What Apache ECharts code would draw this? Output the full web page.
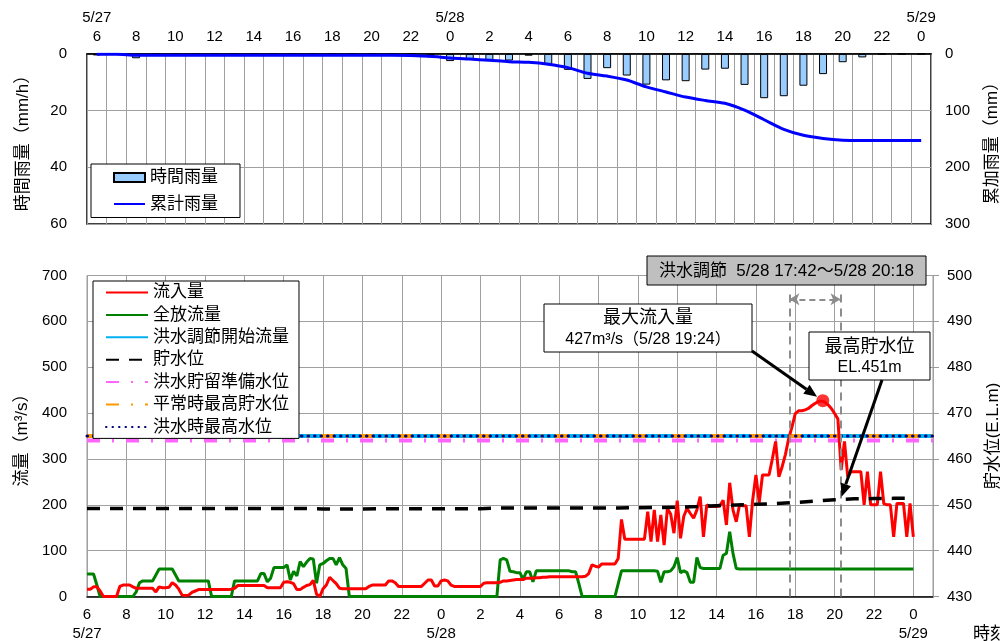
<!DOCTYPE html>
<html>
<head>
<meta charset="utf-8">
<script src="https://cdn.jsdelivr.net/npm/echarts@6/dist/echarts.min.js"></script>
<style>
  html, body { margin: 0; padding: 0; background: #fff; overflow: hidden; }
  #chart { width: 1000px; height: 641px; }
</style>
</head>
<body>
<div id="chart"></div>
<script>
// ---------- hourly rainfall (5/27 6:00 .. 5/29 0:00) ----------
const hourLabels = ['6','7','8','9','10','11','12','13','14','15','16','17','18','19','20','21','22','23',
  '0','1','2','3','4','5','6','7','8','9','10','11','12','13','14','15','16','17','18','19','20','21','22','23','0'];
const topDayMarks = { 0: '5/27', 18: '5/28', 42: '5/29' };

// 時間雨量 (mm/h)
const hourlyRain = [0.5, 0, 1.5, 0, 0, 0, 0, 0, 0, 0, 0, 0, 0, 0, 0, 0, 0, 1.2,
  2.5, 1.8, 2.1, 2.3, 0.6, 3.5, 5.6, 8.8, 5.0, 7.6, 10.8, 9.3, 9.6, 5.5, 5.2, 10.9,
  15.6, 14.9, 11.2, 7.1, 2.9, 1.2, 0, 0, 0];
// 累計雨量 (mm)
const cumulativeRain = [0.5, 0.5, 2, 2, 2, 2, 2, 2, 2, 2, 2, 2, 2, 2, 2, 2, 2.5, 4,
  7, 9, 11, 13.5, 14.7, 18, 24, 34, 39, 46, 58, 67, 76, 82, 87, 99,
  116, 133, 143.5, 149, 152, 152.5, 152.5, 152.5, 152.5];

// ---------- 10-minute records, hours counted from 5/27 0:00 ----------
const recordStartHour = 6;
const recordsPerHour = 6;
const dayMarks = { 6: '5/27', 24: '5/28', 48: '5/29' };

// 流入量 (m3/s)
const inflow = [
  16,16,21,21,12,0,        // 6
  0,0,0,0,22,25,           // 7
  25,25,21,18,18,18,       // 8
  18,18,18,10,21,19,       // 9
  19,20,30,25,16,3,        // 10
  2,3,9,12,15,15,          // 11
  15,15,15,15,15,15,       // 12
  15,15,16,18,24,24,       // 13
  24,24,24,24,24,24,       // 14
  24,19,19,19,19,19,       // 15
  31,32,31,28,15,15,       // 16
  20,24,26,35,5,0,         // 17
  17,25,42,35,28,18,       // 18
  17,17,17,17,17,17,       // 19
  17,17,22,25,25,25,       // 20
  25,25,34,34,30,22,       // 21
  22,22,22,22,22,22,       // 22
  22,29,36,36,23,23,       // 23
  34,36,34,25,22,22,       // 0 (5/28)
  22,22,22,22,22,22,       // 1
  22,29,30,30,30,30,       // 2
  31,34,34,35,36,37,       // 3
  37,37,40,40,40,41,       // 4
  41,42,42,43,43,43,       // 5
  43,43,43,43,43,43,       // 6
  43,43,44,50,69,66,       // 7
  64,71,71,71,71,71,       // 8
  83,168,125,125,125,125,  // 9
  125,125,125,185,120,189, // 10
  120,178,112,192,180,138, // 11
  209,127,175,192,181,171, // 12
  189,218,130,200,196,196, // 13
  196,198,210,156,248,189, // 14
  163,200,198,198,130,210, // 15
  265,205,265,265,265,300, // 16
  338,261,283,310,345,370, // 17
  399,405,405,407,410,416, // 18
  421,425,426,424,418,410, // 19
  399,387,276,338,261,272, // 20
  272,272,272,200,272,200, // 21
  200,200,272,202,200,200, // 22
  130,203,203,203,130,203, // 23
  130                      // 0 (5/29)
];

// 全放流量 (m3/s)
const outflow = [
  49,49,49,25,0,0,         // 6
  0,0,0,0,0,0,             // 7
  0,0,0,10,30,34,          // 8
  34,34,34,47,60,60,       // 9
  60,60,60,47,34,34,       // 10
  34,34,34,34,34,34,       // 11
  34,34,0,0,0,0,           // 12
  0,0,0,34,34,34,          // 13
  34,34,34,34,34,50,       // 14
  50,32,40,63,63,63,       // 15
  63,69,36,55,45,76,       // 16
  65,75,83,82,29,69,       // 17
  72,78,83,83,69,85,       // 18
  69,61,0,0,0,0,           // 19
  0,0,0,0,0,0,             // 20
  0,0,0,0,0,0,             // 21
  0,0,0,0,0,0,             // 22
  0,0,0,0,0,0,             // 23
  0,0,0,0,0,0,             // 0 (5/28)
  0,0,0,0,0,0,             // 1
  0,0,0,0,0,0,             // 2
  80,83,80,55,54,52,       // 3
  52,38,54,54,32,56,       // 4
  56,56,56,56,56,56,       // 5
  56,56,56,56,54,54,       // 6
  28,0,0,0,0,0,            // 7
  0,0,0,0,0,0,             // 8
  28,56,56,56,56,56,       // 9
  56,56,56,56,56,56,       // 10
  55,31,54,54,56,65,       // 11
  85,52,56,52,31,31,       // 12
  85,63,61,61,61,61,       // 13
  61,61,90,94,141,94,      // 14
  61,60,60,60,60,60,       // 15
  60,60,60,60,60,60,       // 16
  60,60,60,60,60,60,       // 17
  60,60,60,60,60,60,       // 18
  60,60,60,60,60,60,       // 19
  60,60,60,60,60,60,       // 20
  60,60,60,60,60,60,       // 21
  60,60,60,60,60,60,       // 22
  60,60,60,60,60,60,       // 23
  60                       // 0 (5/29)
];

// 貯水位 (EL.m), hourly 6:00 5/27 .. 0:00 5/29
const storageLevel = [449.2, 449.2, 449.2, 449.2, 449.2, 449.2, 449.2, 449.2, 449.2, 449.2, 449.2, 449.2,
  449.1, 449.1, 449.1, 449.15, 449.15, 449.15, 449.15, 449.15, 449.15,
  449.3, 449.3, 449.3, 449.3, 449.3, 449.3, 449.3,
  449.35, 449.4, 449.45, 449.6, 449.8, 449.95, 450.1, 450.25, 450.5, 450.8, 451.1, 451.3, 451.35, 451.4, 451.4];

// reference levels
const floodControlFlow = 350;     // 洪水調節開始流量
const floodStandbyLevel = 464;    // 洪水貯留準備水位
const normalMaxLevel = 465;       // 平常時最高貯水位
const floodMaxLevel = 465;        // 洪水時最高水位

// flood control period and peak inflow
const floodStart = 41.7;          // 5/28 17:42
const floodEnd = 44.3;            // 5/28 20:18
const peakTime = 43.4;            // 5/28 19:24
const peakFlow = 427;

// ---------- build series data ----------
const timeOf = i => recordStartHour + i / recordsPerHour;
const inflowData = inflow.map((v, i) => [timeOf(i), v]);
const outflowData = outflow.map((v, i) => [timeOf(i), v]);
const storageData = storageLevel.map((v, i) => [recordStartHour + i, v]);
const axisStart = 6, axisEnd = 49;
const flatLine = v => [[axisStart, v], [axisEnd, v]];

const FONT = '"Liberation Sans","Noto Sans CJK JP",sans-serif';
const GRID_COLOR = '#a0a0a0';
const lineOnly = name => ({ name: name, itemStyle: { opacity: 0 } });

const chart = echarts.init(document.getElementById('chart'));

const option = {
  animation: false,
  textStyle: { fontFamily: FONT, color: '#000' },
  grid: [
    { left: 87, top: 54, width: 844, height: 170, outerBoundsMode: 'none', containLabel: false,
      show: true, borderColor: '#000', borderWidth: 1.5, backgroundColor: '#fff' },
    { left: 87, top: 275.5, width: 846, height: 321, outerBoundsMode: 'none', containLabel: false,
      show: true, borderColor: '#999', borderWidth: 1, backgroundColor: '#fff' }
  ],
  legend: [
    {
      data: [{ name: '時間雨量', icon: 'rect' }, lineOnly('累計雨量')],
      orient: 'vertical', left: 91, top: 164,
      itemWidth: 31, itemHeight: 9, itemGap: 9.5,
      padding: [5, 22, 5, 22],
      backgroundColor: '#fff', borderColor: '#000', borderWidth: 1,
      selectedMode: false,
      textStyle: { fontFamily: FONT, fontSize: 17, color: '#000' }
    },
    {
      data: ['流入量', '全放流量', '洪水調節開始流量', '貯水位', '洪水貯留準備水位', '平常時最高貯水位', '洪水時最高水位'].map(lineOnly),
      orient: 'vertical', left: 93, top: 281,
      itemWidth: 42, itemHeight: 14, itemGap: 5.4,
      padding: [3, 10, 3, 12],
      backgroundColor: '#fff', borderColor: '#000', borderWidth: 1,
      selectedMode: false,
      textStyle: { fontFamily: FONT, fontSize: 17, color: '#000' }
    }
  ],
  xAxis: [
    {
      type: 'category', gridIndex: 0, position: 'top', data: hourLabels, boundaryGap: true,
      axisLine: { show: true, lineStyle: { color: '#000', width: 1.5 } },
      axisTick: { show: false },
      axisLabel: {
        interval: 1, margin: 8, fontSize: 15, lineHeight: 19, color: '#000',
        formatter: (v, i) => topDayMarks[i] ? topDayMarks[i] + '\n' + v : v
      },
      splitLine: { show: true, interval: 0, lineStyle: { color: GRID_COLOR, width: 1 } }
    },
    {
      type: 'value', gridIndex: 1, min: axisStart, max: axisEnd, interval: 2,
      axisLine: { show: true, onZero: false, lineStyle: { color: '#000', width: 1.5 } },
      axisTick: { show: false },
      axisLabel: {
        margin: 9, fontSize: 15, lineHeight: 19, color: '#000', showMaxLabel: false,
        formatter: v => {
          if (v > 48 || v % 2) return '';
          const d = dayMarks[v];
          return (v % 24) + (d ? '\n' + d : '');
        }
      },
      splitLine: { show: true, lineStyle: { color: GRID_COLOR, width: 1 } }
    }
  ],
  yAxis: [
    {
      type: 'value', gridIndex: 0, min: 0, max: 60, interval: 20, inverse: true,
      name: '時間雨量（mm/h）', nameLocation: 'middle', nameGap: 55,
      nameTextStyle: { fontFamily: FONT, fontSize: 17, color: '#000' },
      axisLine: { show: false }, axisTick: { show: false },
      axisLabel: { margin: 20, fontSize: 15, color: '#000' },
      splitLine: { show: true, lineStyle: { color: GRID_COLOR, width: 1 } }
    },
    {
      type: 'value', gridIndex: 0, position: 'right', min: 0, max: 300, interval: 100, inverse: true,
      name: '累加雨量（mm）', nameLocation: 'middle', nameGap: 53, nameRotate: 90,
      nameTextStyle: { fontFamily: FONT, fontSize: 17, color: '#000' },
      axisLine: { show: false }, axisTick: { show: false },
      axisLabel: { margin: 14, fontSize: 15, color: '#000' },
      splitLine: { show: false }
    },
    {
      type: 'value', gridIndex: 1, min: 0, max: 700, interval: 100,
      name: '流量（m³/s）', nameLocation: 'middle', nameGap: 55,
      nameTextStyle: { fontFamily: FONT, fontSize: 17, color: '#000' },
      axisLine: { show: false }, axisTick: { show: false },
      axisLabel: { margin: 20, fontSize: 15, color: '#000' },
      splitLine: { show: true, lineStyle: { color: GRID_COLOR, width: 1 } }
    },
    {
      type: 'value', gridIndex: 1, position: 'right', min: 430, max: 500, interval: 10,
      name: '貯水位(E.L.m)', nameLocation: 'middle', nameGap: 52, nameRotate: 90,
      nameTextStyle: { fontFamily: FONT, fontSize: 17, color: '#000' },
      axisLine: { show: false },
      axisTick: { show: true, length: 6, lineStyle: { color: '#999' } },
      axisLabel: { margin: 14, fontSize: 15, color: '#000' },
      splitLine: { show: false }
    }
  ],
  series: [
    {
      name: '時間雨量', type: 'bar', xAxisIndex: 0, yAxisIndex: 0, data: hourlyRain,
      barWidth: 8, itemStyle: { color: '#99ccff', borderColor: '#000', borderWidth: 1 }
    },
    {
      name: '累計雨量', type: 'line', xAxisIndex: 0, yAxisIndex: 1, data: cumulativeRain,
      symbol: 'none', smooth: 0.3, lineStyle: { color: '#0000ff', width: 3 }, itemStyle: { color: '#0000ff' }, z: 3
    },
    {
      name: '流入量', type: 'line', xAxisIndex: 1, yAxisIndex: 2, data: inflowData,
      symbol: 'none', lineStyle: { color: '#ff0000', width: 3 }, itemStyle: { color: '#ff0000' }, z: 4
    },
    {
      name: '全放流量', type: 'line', xAxisIndex: 1, yAxisIndex: 2, data: outflowData,
      symbol: 'none', lineStyle: { color: '#008000', width: 3 }, itemStyle: { color: '#008000' }, z: 3,
      markLine: {
        silent: true, symbol: ['arrow', 'arrow'], symbolSize: [9, 10], label: { show: false },
        lineStyle: { color: '#8c8c8c', type: [6, 4], width: 2 },
        data: [[{ coord: [floodStart, 648] }, { coord: [floodEnd, 648] }]]
      }
    },
    {
      name: '洪水調節開始流量', type: 'line', xAxisIndex: 1, yAxisIndex: 2, data: flatLine(floodControlFlow),
      symbol: 'none', lineStyle: { color: '#00b0f0', width: 4 }, itemStyle: { color: '#00b0f0' }, z: 2
    },
    {
      name: '貯水位', type: 'line', xAxisIndex: 1, yAxisIndex: 3, data: storageData,
      symbol: 'none', lineStyle: { color: '#000', width: 3.5, type: [13, 10] }, itemStyle: { color: '#000' }, z: 5
    },
    {
      name: '洪水貯留準備水位', type: 'line', xAxisIndex: 1, yAxisIndex: 3, data: flatLine(floodStandbyLevel),
      symbol: 'none', lineStyle: { color: '#ff66ff', width: 4, type: [13, 12, 2, 12] }, itemStyle: { color: '#ff66ff' }, z: 2
    },
    {
      name: '平常時最高貯水位', type: 'line', xAxisIndex: 1, yAxisIndex: 3, data: flatLine(normalMaxLevel),
      symbol: 'none', lineStyle: { color: '#ff9900', width: 4, type: [13, 12, 2, 12] }, itemStyle: { color: '#ff9900' }, z: 2
    },
    {
      name: '洪水時最高水位', type: 'line', xAxisIndex: 1, yAxisIndex: 3, data: flatLine(floodMaxLevel),
      symbol: 'none', lineStyle: { color: '#000080', width: 3, type: [0.5, 6], cap: 'round' }, itemStyle: { color: '#000080' }, z: 2
    },
    {
      name: '最大流入量', type: 'scatter', xAxisIndex: 1, yAxisIndex: 2, data: [[peakTime, peakFlow]],
      symbol: 'circle', symbolSize: 13, itemStyle: { color: '#ff0000' }, z: 6,
      markLine: {
        silent: true, symbol: ['none', 'none'], label: { show: false },
        lineStyle: { color: '#8c8c8c', type: [8, 6], width: 2 },
        data: [
          [{ coord: [floodStart, 0] }, { coord: [floodStart, 662] }],
          [{ coord: [floodEnd, 0] }, { coord: [floodEnd, 662] }]
        ]
      }
    }
  ]
};

chart.setOption(option);

// ---------- annotations ----------
function arrow(from, to, back) {
  const dx = to[0] - from[0], dy = to[1] - from[1];
  const len = Math.hypot(dx, dy);
  const ux = dx / len, uy = dy / len;
  const tip = [to[0] - ux * back, to[1] - uy * back];
  const headL = 13, headW = 11;
  const base = [tip[0] - ux * headL, tip[1] - uy * headL];
  const nx = -uy, ny = ux;
  return [
    { type: 'line', shape: { x1: from[0], y1: from[1], x2: base[0], y2: base[1] },
      style: { stroke: '#000', lineWidth: 3 }, z: 100 },
    { type: 'polygon', shape: { points: [tip,
        [base[0] + nx * headW / 2, base[1] + ny * headW / 2],
        [base[0] - nx * headW / 2, base[1] - ny * headW / 2]] },
      style: { fill: '#000' }, z: 100 }
  ];
}

function levelAt(t) {
  const i = Math.floor(t - recordStartHour);
  const f = (t - recordStartHour) - i;
  return storageLevel[i] + (storageLevel[i + 1] - storageLevel[i]) * f;
}

const peakPx = chart.convertToPixel({ seriesIndex: 9 }, [peakTime, peakFlow]);
const levelPx = chart.convertToPixel({ seriesIndex: 5 }, [floodEnd, levelAt(floodEnd)]);

const boxText = { fontFamily: FONT, fill: '#000', align: 'center', verticalAlign: 'middle' };

chart.setOption({
  graphic: [
    // flood control period
    { type: 'rect', shape: { x: 647, y: 256, width: 279, height: 29 },
      style: { fill: '#bfbfbf', stroke: '#000', lineWidth: 1 }, z: 100 },
    { type: 'text', x: 786.5, y: 271, z: 101,
      style: Object.assign({ text: '洪水調節  5/28 17:42～5/28 20:18', fontSize: 17 }, boxText) },
    // peak inflow
    { type: 'rect', shape: { x: 544, y: 304, width: 208, height: 48 },
      style: { fill: '#fff', stroke: '#000', lineWidth: 1 }, z: 100 },
    { type: 'text', x: 648, y: 318, z: 101,
      style: Object.assign({ text: '最大流入量', fontSize: 18 }, boxText) },
    { type: 'text', x: 648, y: 340, z: 101,
      style: Object.assign({ text: '427m³/s（5/28 19:24）', fontSize: 16 }, boxText) },
    // max storage level
    { type: 'rect', shape: { x: 809, y: 332, width: 121, height: 48 },
      style: { fill: '#fff', stroke: '#000', lineWidth: 1 }, z: 100 },
    { type: 'text', x: 869.5, y: 347, z: 101,
      style: Object.assign({ text: '最高貯水位', fontSize: 18 }, boxText) },
    { type: 'text', x: 869.5, y: 368, z: 101,
      style: Object.assign({ text: 'EL.451m', fontSize: 16 }, boxText) },
    ...arrow([752, 351], peakPx, 7),
    ...arrow([882, 380], levelPx, 3),
    // time axis title
    { type: 'text', x: 973, y: 626, z: 101,
      style: { text: '時刻', fontFamily: FONT, fontSize: 17, fill: '#000', align: 'left', verticalAlign: 'top' } }
  ]
});
</script>
</body>
</html>
